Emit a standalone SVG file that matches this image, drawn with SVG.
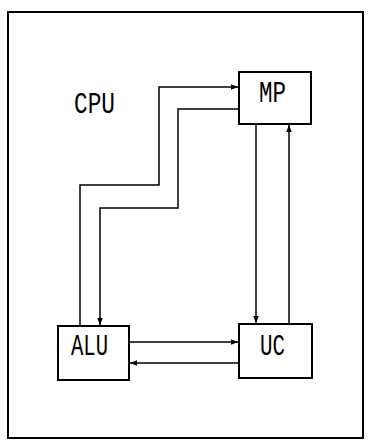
<svg xmlns="http://www.w3.org/2000/svg" width="368" height="441" viewBox="0 0 368 441">
<style>
.box{fill:#fff;stroke:#000;stroke-width:2}
.ln{fill:none;stroke:#000;stroke-width:1.5}
.t{font-family:"Liberation Mono","DejaVu Sans Mono",monospace;font-size:29px;fill:#000}
</style>
<defs>
<marker id="ah" viewBox="0 0 10 10" refX="10" refY="5" markerWidth="7" markerHeight="7" orient="auto" markerUnits="userSpaceOnUse">
<path d="M0,1 L10,5 L0,9 Z" fill="#000"/>
</marker>
</defs>
<rect width="368" height="441" fill="#fff"/>
<rect x="8" y="12" width="355" height="426" fill="none" stroke="#000" stroke-width="2"/>
<text class="t" x="74" y="113" textLength="41" lengthAdjust="spacingAndGlyphs">CPU</text>
<g id="connectors">
<path class="ln" d="M80,326 V185 H159 V87 H238" marker-end="url(#ah)"/>
<path class="ln" d="M239,109 H178 V208 H100 V325" marker-end="url(#ah)"/>
<path class="ln" d="M256,124 V323" marker-end="url(#ah)"/>
<path class="ln" d="M289,324 V125" marker-end="url(#ah)"/>
<path class="ln" d="M129,342 H238" marker-end="url(#ah)"/>
<path class="ln" d="M239,363 H130" marker-end="url(#ah)"/>
</g>
<g id="MP">
<rect class="box" x="239" y="72" width="72" height="52"/>
<text class="t" x="259" y="102" textLength="27" lengthAdjust="spacingAndGlyphs">MP</text>
</g>
<g id="ALU">
<rect class="box" x="58" y="326" width="71" height="54"/>
<text class="t" x="71" y="355" textLength="37" lengthAdjust="spacingAndGlyphs">ALU</text>
</g>
<g id="UC">
<rect class="box" x="239" y="324" width="73" height="54"/>
<text class="t" x="260" y="355" textLength="25" lengthAdjust="spacingAndGlyphs">UC</text>
</g>
</svg>
